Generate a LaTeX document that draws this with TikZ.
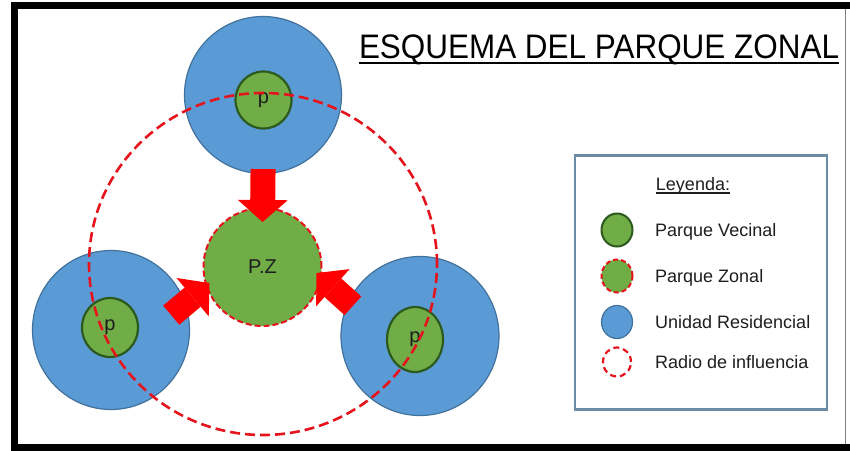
\documentclass[tikz,border=0pt]{standalone}
\usepackage{fontspec}
\setmainfont{Liberation Sans}
\usepackage{xcolor}
\usepackage{tikz}
\usetikzlibrary{arrows.meta,shapes.geometric}

\definecolor{resblue}{HTML}{5B9BD5}
\definecolor{resline}{HTML}{41719C}
\definecolor{parkgreen}{HTML}{70AD47}
\definecolor{parkline}{HTML}{2C5A1E}
\definecolor{zonered}{HTML}{E5141C}
\definecolor{boxline}{HTML}{6B8CA5}
\definecolor{txt}{HTML}{1E1E1E}

\begin{document}
\begin{tikzpicture}[x=1pt,y=-1pt,
  unidad/.style={ellipse,fill=resblue,draw=resline,line width=1.2pt,inner sep=0pt,minimum width=157pt,minimum height=157pt},
  vecinal/.style={ellipse,fill=parkgreen,draw=parkline,line width=2.2pt,inner sep=0pt,minimum width=56pt,minimum height=57pt,text=txt,font=\fontsize{20}{20}\selectfont},
  zonal/.style={circle,fill=parkgreen,draw=zonered,line width=2pt,dash pattern=on 6pt off 3pt,inner sep=0pt,minimum size=118pt,text=txt,font=\fontsize{20}{20}\selectfont},
  radio/.style={ellipse,draw=zonered,line width=2.6pt,dash pattern=on 10pt off 5pt,inner sep=0pt,minimum width=348pt,minimum height=342pt},
  flecha/.style={draw=red,line width=25pt,-{Triangle[width=50pt,length=22pt,line width=0pt]}},
  icono/.style={ellipse,inner sep=0pt,minimum width=31pt,minimum height=33pt},
  rotulo/.style={anchor=base west,inner sep=0pt,text=txt,font=\fontsize{18}{18}\selectfont}]
\useasboundingbox (0,0) rectangle (850,450);

\draw[line width=7pt] (850,5.5) -- (14.5,5.5) -- (14.5,447.5) -- (850,447.5);
\draw[gray,line width=1.5pt] (845.5,9) -- (845.5,444);

\node[unidad] (ruN) at (263,95) {};
\node[unidad,minimum height=159pt] (ruW) at (111,330) {};
\node[unidad,minimum width=158pt,minimum height=159pt] (ruE) at (420,336) {};

\node[vecinal] (pvN) at (263.5,100) {p};
\node[vecinal,minimum height=59pt] (pvW) at (110,327.5) {p};
\node[vecinal,minimum height=65pt] (pvE) at (415,339.5) {p};

\node[radio] (influencia) at (263,264) {};

\node[zonal] (pz) at (262.5,267) {P.Z};

\coordinate (tipN) at ([yshift=45pt]pz.center);
\coordinate (tipW) at ([shift={(-53pt,-16pt)}]pz.center);
\coordinate (tipE) at ([shift={(54pt,-6pt)}]pz.center);
\coordinate (tailW) at ([shift={(220:50pt)}]tipW);
\coordinate (tailE) at ([shift={(318:49pt)}]tipE);
\draw[flecha,shorten <=-5pt] (ruN.south) -- (tipN);
\draw[flecha] (tailW) -- (tipW);
\draw[flecha] (tailE) -- (tipE);

\node[anchor=base,inner sep=0pt,font=\fontsize{34}{34}\selectfont] (titulo) at (599,58) {\scalebox{0.925}[1]{ESQUEMA DEL PARQUE ZONAL}};
\draw[line width=2pt] ([yshift=-5pt]titulo.base west) -- ([yshift=-5pt]titulo.base east);

\node[draw=boxline,line width=2.5pt,fill=white,anchor=north west,minimum width=252pt,minimum height=254pt] (caja) at (573.5,154) {};
\node[anchor=base,inner sep=0pt,text=txt,font=\fontsize{18}{18}\selectfont] (leyenda) at (693,190) {Leyenda:};
\draw[txt,line width=1.1pt] ([yshift=-3pt]leyenda.base west) -- ([yshift=-3pt]leyenda.base east);

\node[icono,fill=parkgreen,draw=parkline,line width=2pt] (icoV) at (617,230) {};
\node[rotulo] (txtV) at (655,236) {Parque Vecinal};
\node[icono,fill=parkgreen,draw=zonered,line width=2pt,dash pattern=on 5pt off 3pt] (icoZ) at (617,276) {};
\node[rotulo] (txtZ) at (655,282) {Parque Zonal};
\node[icono,fill=resblue,draw=resline,line width=1.2pt] (icoR) at (617,322) {};
\node[rotulo] (txtR) at (655,328) {Unidad Residencial};
\node[icono,minimum width=28pt,minimum height=29pt,draw=zonered,line width=2.2pt,dash pattern=on 6pt off 4pt] (icoI) at (617,362) {};
\node[rotulo] (txtI) at (655,368) {Radio de influencia};
\end{tikzpicture}
\end{document}
